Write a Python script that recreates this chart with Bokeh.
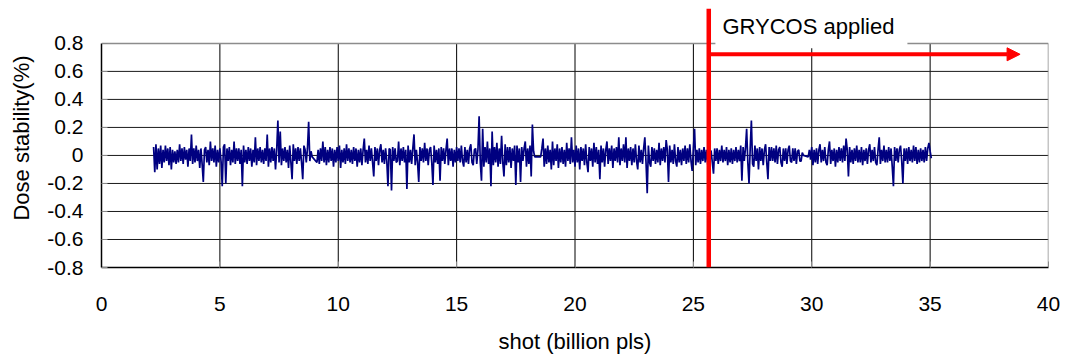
import numpy as np
from bokeh.plotting import figure
from bokeh.models import FixedTicker, Arrow, NormalHead, Label, Range1d, Span
from bokeh.embed import file_html
from bokeh.resources import INLINE

# ---- data ----
# shot positions (billion pls): each recorded run is sampled every 0.05 from its start
seg_starts = [2.2, 9.1, 18.55, 29.85]
seg_step = 0.05

seg1_dose = [0.06, -0.12, 0.08, -0.10, 0.05, -0.06, 0.07, -0.09, 0.04, -0.05,
             0.07, -0.04, 0.05, -0.07, 0.06, -0.10, 0.04, -0.05, 0.03, -0.06,
             0.04, -0.05, 0.08, -0.04, 0.05, -0.06, 0.06, -0.03, 0.04, -0.08,
             0.05, -0.04, 0.15, -0.06, 0.05, -0.05, 0.07, -0.04, 0.04, -0.09,
             0.05, -0.06, -0.19, 0.04, 0.06, -0.05, 0.04, -0.07, 0.10, -0.04,
             0.05, -0.05, 0.07, -0.08, 0.04, -0.05, 0.05, -0.04, -0.22, 0.06,
             0.08, -0.20, 0.05, -0.04, 0.06, -0.07, 0.04, -0.05, 0.10, -0.06,
             0.05, -0.04, 0.05, -0.06, 0.04, -0.22, 0.07, -0.05, 0.04, -0.06,
             0.06, -0.04, 0.05, -0.08, 0.04, -0.05, 0.13, -0.07, 0.05, -0.04,
             0.06, -0.05, 0.04, -0.06, 0.05, -0.04, 0.15, -0.08, 0.05, -0.05,
             0.06, -0.04, 0.05, -0.10, 0.04, 0.25, -0.05, 0.17, -0.07, 0.05,
             -0.04, 0.06, -0.05, 0.04, -0.09, 0.07, -0.05, -0.17, 0.08, -0.04,
             0.05, -0.06, 0.06, -0.04, 0.05, -0.05, -0.17, 0.07, 0.04, -0.05,
             0.05, 0.24, -0.04, 0.03, -0.01]

seg2_dose = [-0.05, 0.04, -0.06, 0.05, -0.04, 0.10, -0.05, 0.06, -0.07, 0.04,
             -0.05, 0.06, -0.04, 0.05, -0.08, 0.04, -0.05, 0.06, -0.04, 0.07,
             -0.09, 0.04, -0.05, 0.05, -0.06, 0.08, -0.04, 0.05, -0.05, 0.04,
             -0.06, 0.06, -0.04, 0.05, -0.08, 0.04, -0.05, 0.05, -0.07, 0.04,
             0.12, -0.05, 0.04, -0.06, 0.07, -0.04, 0.05, -0.05, -0.15, 0.06,
             -0.04, 0.05, -0.07, 0.04, 0.08, -0.05, 0.04, -0.06, 0.05, -0.04,
             -0.22, 0.05, 0.04, -0.25, 0.06, -0.04, 0.05, -0.05, -0.04, 0.10,
             -0.07, 0.05, -0.04, 0.06, -0.05, 0.04, -0.24, 0.07, -0.05, 0.04,
             -0.06, 0.05, 0.15, -0.07, 0.04, -0.05, -0.19, 0.06, -0.04, 0.05,
             -0.05, 0.09, -0.04, 0.05, -0.07, 0.04, 0.06, -0.05, -0.21, 0.07,
             -0.05, 0.04, -0.06, 0.05, -0.18, 0.06, -0.04, 0.05, -0.06, 0.04,
             0.12, -0.07, 0.05, -0.04, 0.05, -0.08, 0.04, -0.05, 0.06, -0.04,
             0.05, -0.05, 0.07, -0.04, -0.08, 0.06, -0.05, 0.04, -0.06, 0.05,
             0.08, -0.05, -0.07, 0.04, 0.05, -0.06, 0.04, 0.28, -0.05, -0.18,
             0.19, -0.08, 0.06, -0.05, 0.10, -0.06, 0.05, -0.22, 0.17, -0.07,
             0.06, -0.05, 0.09, -0.08, 0.05, -0.06, 0.14, -0.05, -0.15, 0.08,
             -0.07, 0.06, -0.05, 0.06, -0.09, 0.05, -0.04, 0.07, -0.21, 0.07,
             -0.05, 0.05, -0.19, 0.06, -0.04, 0.05, 0.10, -0.08, 0.05, -0.06,
             0.07, -0.15, 0.22, 0.03, -0.01]

seg3_dose = [-0.01, 0.05, 0.12, -0.08, 0.05, -0.06, 0.07, -0.05, 0.04, -0.10,
             0.10, -0.07, 0.05, -0.04, 0.08, -0.09, 0.05, -0.05, 0.06, -0.06,
             0.04, -0.08, 0.09, -0.04, 0.05, -0.06, 0.13, -0.05, 0.04, -0.08,
             0.07, -0.05, 0.05, -0.10, 0.06, -0.04, 0.05, -0.07, 0.08, -0.05,
             -0.12, 0.06, -0.04, 0.05, -0.08, 0.09, -0.05, 0.06, -0.06, 0.04,
             -0.17, 0.07, -0.05, 0.05, -0.08, 0.04, 0.10, -0.06, 0.05, -0.04,
             0.07, -0.09, 0.05, -0.04, 0.06, -0.05, 0.13, -0.07, 0.05, -0.04,
             0.08, -0.05, 0.13, -0.09, 0.05, -0.04, 0.06, -0.07, 0.05, -0.05,
             0.08, -0.04, -0.10, 0.07, -0.05, 0.04, -0.06, 0.05, 0.13, -0.05,
             -0.27, 0.07, -0.05, -0.08, 0.06, -0.04, 0.05, -0.06, 0.04, -0.05,
             0.09, -0.07, 0.05, -0.04, 0.06, -0.05, 0.11, 0.04, -0.19, 0.07,
             -0.05, 0.04, -0.06, 0.08, -0.04, -0.08, 0.06, -0.05, 0.04, -0.07,
             0.05, -0.04, 0.07, -0.06, 0.05, -0.05, 0.08, -0.04, -0.11, 0.05,
             0.19, -0.07, 0.04, -0.05, 0.05, -0.06, 0.04, -0.04, 0.06, -0.05,
             0.04, -0.05, -0.15, 0.04, 0.03, -0.05, -0.13, 0.05, -0.04, 0.05,
             -0.06, 0.04, -0.04, 0.07, -0.05, 0.04, -0.04, 0.06, -0.07, 0.04,
             -0.05, 0.05, -0.06, 0.04, -0.04, 0.06, -0.05, 0.04, -0.04, 0.07,
             -0.18, 0.06, -0.04, 0.05, 0.19, -0.05, -0.20, 0.05, 0.25, -0.06,
             -0.08, 0.07, -0.04, 0.05, -0.10, 0.06, -0.04, 0.05, -0.07, 0.04,
             0.08, -0.05, -0.17, 0.06, -0.04, 0.06, -0.04, 0.05, -0.05, 0.07,
             -0.06, 0.04, 0.06, -0.05, -0.08, 0.05, -0.04, 0.05, -0.06, 0.04,
             0.07, -0.04, -0.05, 0.05, -0.04, 0.05, -0.06, 0.03, 0.04, -0.04,
             -0.04, 0.02, 0.00]

seg4_dose = [-0.01, 0.04, -0.03, 0.06, -0.07, 0.04, -0.05, 0.05, -0.06, 0.04,
             0.08, -0.05, 0.04, -0.04, 0.06, -0.05, -0.07, 0.04, 0.10, -0.06,
             0.04, -0.04, 0.05, -0.08, 0.04, -0.05, 0.06, -0.04, 0.05, -0.05,
             0.07, -0.04, 0.12, 0.04, -0.15, 0.06, -0.05, 0.04, -0.06, 0.05,
             -0.04, 0.07, -0.05, 0.04, -0.05, 0.06, -0.07, 0.04, -0.04, 0.05,
             -0.06, 0.04, 0.08, -0.05, 0.04, -0.04, 0.06, -0.05, -0.07, 0.04,
             0.13, -0.06, 0.04, -0.04, 0.07, -0.05, 0.04, -0.05, 0.06, -0.04,
             0.05, -0.08, -0.22, 0.06, -0.04, 0.05, -0.05, 0.04, 0.07, -0.04,
             -0.20, 0.05, -0.04, 0.05, -0.06, 0.06, -0.04, 0.04, -0.05, 0.07,
             -0.04, 0.06, -0.06, 0.04, -0.05, 0.05, -0.04, 0.04, -0.05, 0.06,
             -0.04, 0.05, 0.09, 0.03, -0.02]

x_ticks = [0, 5, 10, 15, 20, 25, 30, 35, 40]
y_ticks = [-0.8, -0.6, -0.4, -0.2, 0, 0.2, 0.4, 0.6, 0.8]
y_tick_labels = ["-0.8", "-0.6", "-0.4", "-0.2", "0", "0.2", "0.4", "0.6", "0.8"]

grycos_shot = 25.65        # where GRYCOS was applied
arrow_end_shot = 38.8
arrow_level = 0.722
annotation_text = "GRYCOS applied"

# ---- build series ----
segs = [seg1_dose, seg2_dose, seg3_dose, seg4_dose]
shot = np.concatenate([s0 + seg_step * np.arange(len(v)) for s0, v in zip(seg_starts, segs)])
dose = np.concatenate([np.array(v) for v in segs])

FONT = "Liberation Sans"
x_lo, x_hi = x_ticks[0], x_ticks[-1]
y_lo, y_hi = y_ticks[0], y_ticks[-1]
headroom = 0.249  # room above the plot box for the annotation

p = figure(width=1060, height=356,
           x_range=Range1d(x_lo, x_hi), y_range=Range1d(y_lo, y_hi + headroom),
           output_backend="svg", toolbar_location=None,
           min_border_left=101, min_border_right=12,
           min_border_top=8, min_border_bottom=84,
           background_fill_color="white", border_fill_color="white")
p.outline_line_color = None
p.grid.visible = False

# grid lines (interior) and box border (top/right)
inner_x = x_ticks[1:-1]
inner_y = y_ticks[1:-1]
p.segment(x0=inner_x, y0=[y_lo] * len(inner_x), x1=inner_x, y1=[y_hi] * len(inner_x),
          line_color="black", line_width=1)
p.segment(x0=[x_lo] * len(inner_y), y0=inner_y, x1=[x_hi] * len(inner_y), y1=inner_y,
          line_color="#1a1a1a", line_width=1)
p.segment(x0=[x_lo, x_hi], y0=[y_hi, y_lo], x1=[x_hi, x_hi], y1=[y_hi, y_hi],
          line_color="#8c8c8c", line_width=1.5)

p.line(shot, dose, line_color="#000080", line_width=1.7)

# axes
p.xaxis.ticker = FixedTicker(ticks=x_ticks)
p.yaxis.ticker = FixedTicker(ticks=y_ticks)
p.yaxis.bounds = (y_lo, y_hi)
p.yaxis.major_label_overrides = {t: l for t, l in zip(y_ticks, y_tick_labels)}
p.xaxis.major_label_overrides = {t: str(t) for t in x_ticks}

for ax in (p.xaxis[0], p.yaxis[0]):
    ax.axis_line_color = "black"
    ax.axis_line_width = 1.5
    ax.major_tick_in = 6
    ax.major_tick_out = 0
    ax.major_tick_line_color = "#888888"
    ax.minor_tick_line_color = None
    ax.major_label_text_font = FONT
    ax.major_label_text_font_size = "21px"
    ax.major_label_text_color = "black"
    ax.axis_label_text_font = FONT
    ax.axis_label_text_font_size = "22px"
    ax.axis_label_text_font_style = "normal"
    ax.axis_label_text_color = "black"

p.xaxis.axis_label = "shot (billion pls)"
p.yaxis.axis_label = "Dose stability(%)"
p.xaxis.major_label_standoff = 29
p.yaxis.major_label_standoff = 18
p.xaxis.axis_label_standoff = 15
p.yaxis.axis_label_standoff = 10

# GRYCOS annotations
p.add_layout(Span(location=grycos_shot, dimension="height",
                  line_color="red", line_width=4.5))
p.add_layout(Arrow(end=NormalHead(size=13, fill_color="red", line_color="red", line_width=1),
                   x_start=grycos_shot, y_start=arrow_level,
                   x_end=arrow_end_shot, y_end=arrow_level,
                   line_color="red", line_width=4))
p.add_layout(Label(x=25.93, y=0.9, text=annotation_text,
                   text_font=FONT, text_font_size="22px", text_baseline="middle",
                   text_color="black",
                   background_fill_color="white",
                   padding=dict(left=7, right=13, top=4, bottom=9)))

open("out.html", "w").write(file_html(p, INLINE))
